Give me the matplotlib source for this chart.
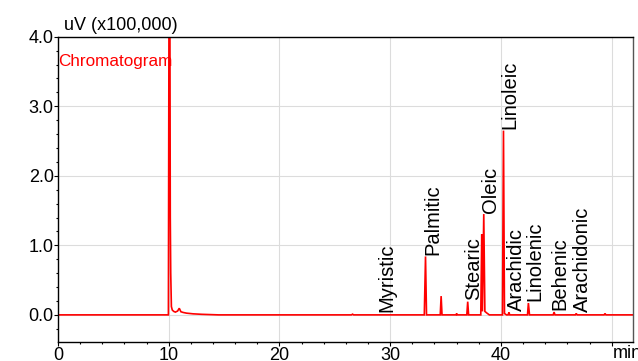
import matplotlib
matplotlib.use("Agg")
import matplotlib.pyplot as plt
from matplotlib.ticker import MultipleLocator

plt.rcParams['font.family'] = ['Liberation Sans', 'DejaVu Sans']

# Chromatogram trace vertices (time in min, signal in uV x100,000)
time_min = [0.0, 9.97, 10.03, 10.10, 10.14, 10.18, 10.24, 10.32, 10.45, 10.60, 10.80,
            10.95, 11.10, 11.30, 11.60, 12.20, 13.00, 14.50,
            26.50, 26.60, 26.70,
            33.08, 33.19, 33.28,
            34.52, 34.60, 34.68,
            35.95, 36.00, 36.06,
            36.92, 37.00, 37.08,
            38.18, 38.27, 38.33, 38.45, 38.55, 38.70, 38.95,
            40.14, 40.23, 40.32, 40.50,
            40.65, 40.72, 40.80,
            42.40, 42.48, 42.58,
            44.72, 44.80, 44.88,
            46.72, 46.80, 46.88,
            49.32, 49.40, 49.48,
            52.0]
signal = [0.0, 0.0, 5.0, 4.8, 1.40, 0.60, 0.12, 0.07, 0.05, 0.04, 0.055,
          0.095, 0.045, 0.035, 0.025, 0.015, 0.008, 0.0,
          0.0, 0.01, 0.0,
          0.0, 0.84, 0.0,
          0.0, 0.27, 0.0,
          0.0, 0.02, 0.0,
          0.0, 0.19, 0.0,
          0.0, 1.16, 0.05, 1.45, 0.05, 0.03, 0.0,
          0.0, 2.65, 0.02, 0.0,
          0.0, 0.035, 0.0,
          0.0, 0.17, 0.0,
          0.0, 0.04, 0.0,
          0.0, 0.02, 0.0,
          0.0, 0.02, 0.0,
          0.0]

# Peak labels: name, time position, signal position of label bottom
peak_names = ["Myristic", "Palmitic", "Stearic", "Oleic", "Linoleic",
              "Arachidic", "Linolenic", "Behenic", "Arachidonic"]
label_time = [29.66, 33.81, 37.58, 39.05, 40.80, 41.40, 43.10, 45.30, 47.40]
label_signal = [0.035, 0.86, 0.215, 1.46, 2.67, 0.06, 0.20, 0.07, 0.045]

x_ticks = [0, 10, 20, 30, 40, 50]
x_tick_labels = ["0", "10", "20", "30", "40", ""]
y_ticks = [0, 1, 2, 3, 4]
y_tick_labels = ["0.0", "1.0", "2.0", "3.0", "4.0"]

fig = plt.figure(figsize=(6.38, 3.61), dpi=100)
ax = fig.add_axes([58/638, 19/361, (632.7-58)/638, (342-36.7)/361])

ax.plot(time_min, signal, color='#ff0000', lw=1.2, solid_joinstyle='miter')

ax.set_xlim(0, 51.9)
ax.set_ylim(-0.39, 4.0)

ax.set_xticks(x_ticks)
ax.set_xticklabels(x_tick_labels)
ax.xaxis.set_minor_locator(MultipleLocator(2))
ax.set_yticks(y_ticks)
ax.set_yticklabels(y_tick_labels)
ax.yaxis.set_minor_locator(MultipleLocator(0.2))

ax.grid(True, which='major', color='#dcdcdc', lw=0.8)
ax.set_axisbelow(True)

ax.tick_params(axis='both', which='major', direction='out', length=3, width=0.8,
               labelsize=13, colors='black')
ax.tick_params(axis='both', which='minor', direction='out', length=1.5, width=0.8)
ax.tick_params(axis='y', which='major', pad=0)
ax.tick_params(axis='x', which='major', pad=0.5)

for s in ['left', 'bottom', 'top']:
    ax.spines[s].set_color('black')
    ax.spines[s].set_linewidth(1.0)
ax.spines['right'].set_color('#555555')
ax.spines['right'].set_linewidth(1.0)

for name, xt, yt in zip(peak_names, label_time, label_signal):
    ax.text(xt, yt, name, rotation=90, ha='center', va='bottom', fontsize=14.5,
            color='black')

ax.text(0.0, 3.58, "Chromatogram", color='#ff0000', fontsize=12.3, ha='left',
        va='baseline', transform=ax.transData)

fig.text(64/638, 1 - 30/361, "uV (x100,000)", fontsize=13, ha='left', va='baseline')
fig.text(613/638, 1 - 358/361, "min", fontsize=13, ha='left', va='baseline')

fig.savefig("out.png", dpi=100)
